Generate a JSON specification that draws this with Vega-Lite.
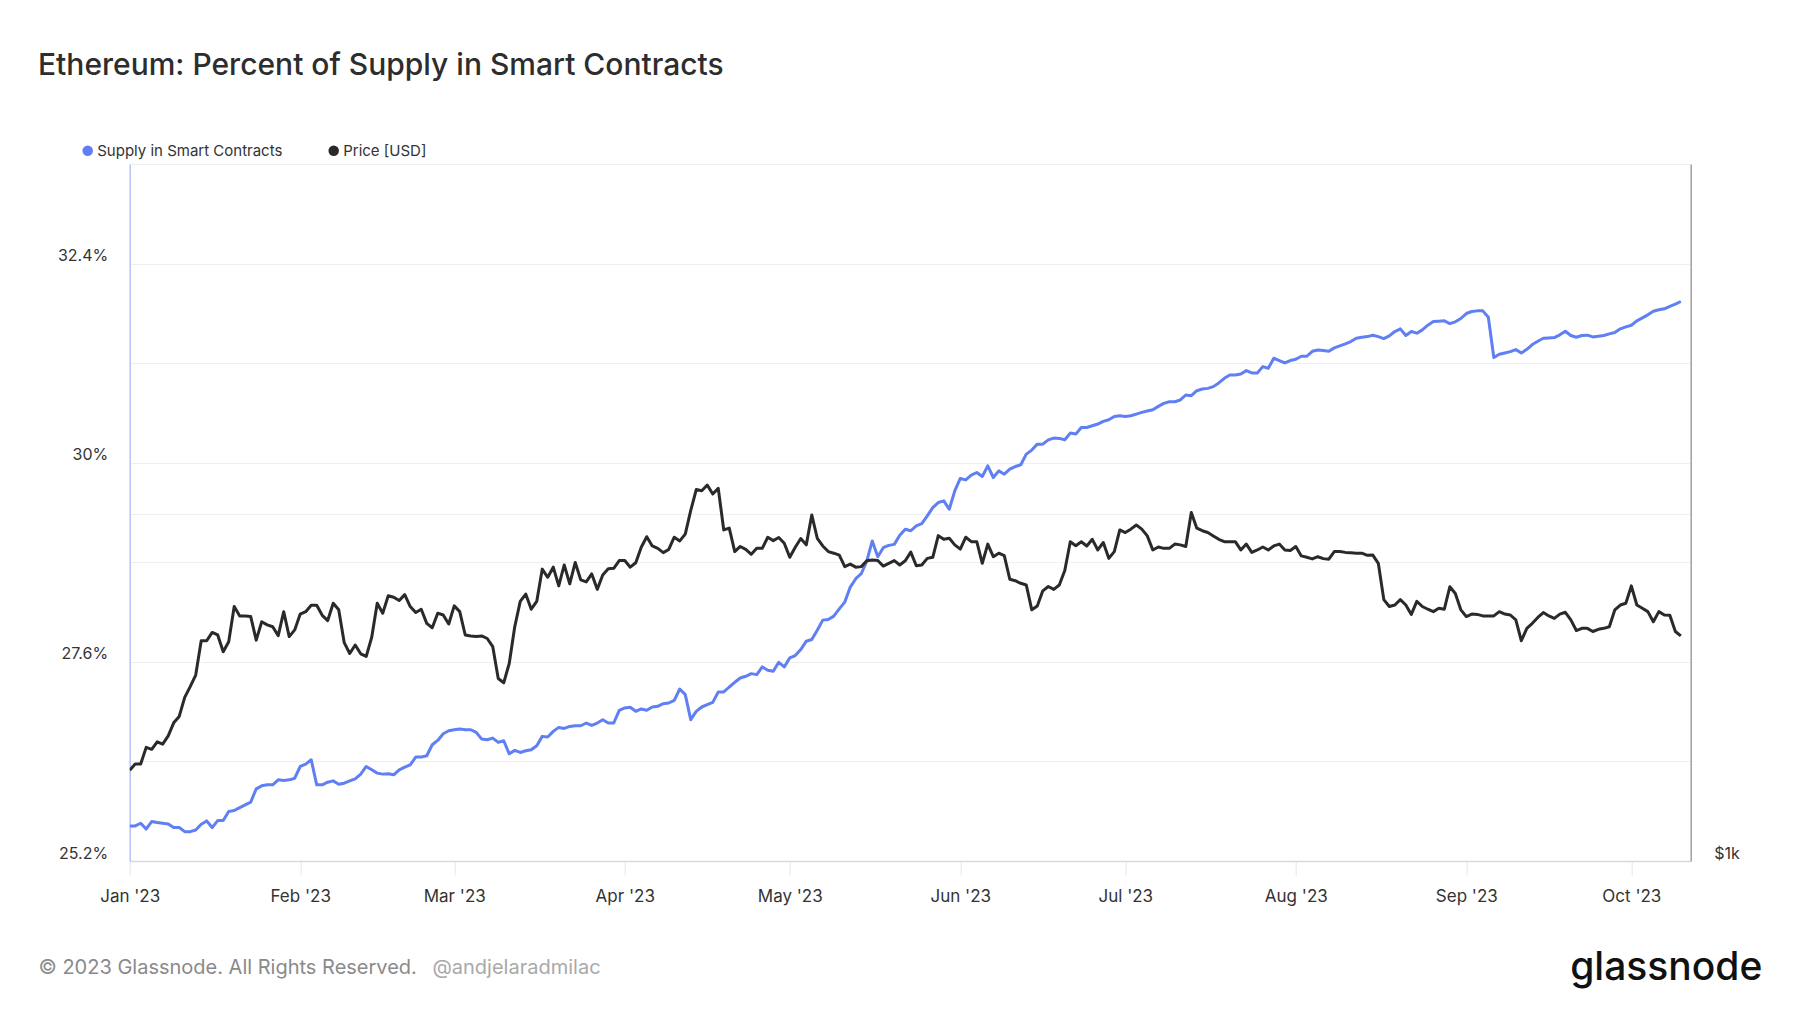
{
  "$schema": "https://vega.github.io/schema/vega-lite/v6.json",
  "width": 1561,
  "height": 697,
  "autosize": {"type": "none"},
  "padding": {"left": 129.7, "top": 164, "right": 109.3, "bottom": 152},
  "background": "white",
  "config": {
    "font": "Inter",
    "view": {"stroke": null},
    "axis": {"labelFont": "Inter", "titleFont": "Inter"}
  },
  "title": {
    "text": "Ethereum: Percent of Supply in Smart Contracts",
    "anchor": "start",
    "frame": "group",
    "dx": -91.7,
    "offset": 47,
    "baseline": "middle",
    "fontSize": 30,
    "fontWeight": 500,
    "color": "#2d2d2d"
  },
  "data": {
    "values": [
      {"d":"2023-01-01","s":25.623,"p":1199},{"d":"2023-01-02","s":25.623,"p":1214},{"d":"2023-01-03","s":25.655,"p":1214},{"d":"2023-01-04","s":25.586,"p":1255},{"d":"2023-01-05","s":25.675,"p":1250},{"d":"2023-01-06","s":25.663,"p":1269},{"d":"2023-01-07","s":25.655,"p":1263},{"d":"2023-01-08","s":25.647,"p":1284},{"d":"2023-01-09","s":25.603,"p":1318},{"d":"2023-01-10","s":25.603,"p":1335},{"d":"2023-01-11","s":25.554,"p":1387},{"d":"2023-01-12","s":25.554,"p":1417},{"d":"2023-01-13","s":25.574,"p":1450},{"d":"2023-01-14","s":25.643,"p":1553},{"d":"2023-01-15","s":25.683,"p":1553},{"d":"2023-01-16","s":25.603,"p":1579},{"d":"2023-01-17","s":25.687,"p":1571},{"d":"2023-01-18","s":25.687,"p":1519},{"d":"2023-01-19","s":25.796,"p":1550},{"d":"2023-01-20","s":25.808,"p":1663},{"d":"2023-01-21","s":25.844,"p":1632},{"d":"2023-01-22","s":25.876,"p":1632},{"d":"2023-01-23","s":25.909,"p":1630},{"d":"2023-01-24","s":26.070,"p":1555},{"d":"2023-01-25","s":26.106,"p":1613},{"d":"2023-01-26","s":26.118,"p":1603},{"d":"2023-01-27","s":26.118,"p":1597},{"d":"2023-01-28","s":26.178,"p":1569},{"d":"2023-01-29","s":26.170,"p":1646},{"d":"2023-01-30","s":26.178,"p":1566},{"d":"2023-01-31","s":26.198,"p":1587},
      {"d":"2023-02-01","s":26.339,"p":1638},{"d":"2023-02-02","s":26.367,"p":1646},{"d":"2023-02-03","s":26.420,"p":1667},{"d":"2023-02-04","s":26.118,"p":1667},{"d":"2023-02-05","s":26.118,"p":1634},{"d":"2023-02-06","s":26.150,"p":1617},{"d":"2023-02-07","s":26.166,"p":1674},{"d":"2023-02-08","s":26.126,"p":1652},{"d":"2023-02-09","s":26.138,"p":1547},{"d":"2023-02-10","s":26.166,"p":1514},{"d":"2023-02-11","s":26.190,"p":1540},{"d":"2023-02-12","s":26.247,"p":1513},{"d":"2023-02-13","s":26.339,"p":1505},{"d":"2023-02-14","s":26.299,"p":1564},{"d":"2023-02-15","s":26.259,"p":1674},{"d":"2023-02-16","s":26.247,"p":1641},{"d":"2023-02-17","s":26.251,"p":1699},{"d":"2023-02-18","s":26.239,"p":1694},{"d":"2023-02-19","s":26.299,"p":1683},{"d":"2023-02-20","s":26.331,"p":1703},{"d":"2023-02-21","s":26.359,"p":1663},{"d":"2023-02-22","s":26.452,"p":1643},{"d":"2023-02-23","s":26.452,"p":1654},{"d":"2023-02-24","s":26.468,"p":1608},{"d":"2023-02-25","s":26.601,"p":1594},{"d":"2023-02-26","s":26.653,"p":1641},{"d":"2023-02-27","s":26.734,"p":1635},{"d":"2023-02-28","s":26.770,"p":1606},
      {"d":"2023-03-01","s":26.782,"p":1665},{"d":"2023-03-02","s":26.790,"p":1646},{"d":"2023-03-03","s":26.782,"p":1571},{"d":"2023-03-04","s":26.782,"p":1568},{"d":"2023-03-05","s":26.750,"p":1566},{"d":"2023-03-06","s":26.669,"p":1568},{"d":"2023-03-07","s":26.661,"p":1560},{"d":"2023-03-08","s":26.681,"p":1535},{"d":"2023-03-09","s":26.629,"p":1440},{"d":"2023-03-10","s":26.649,"p":1428},{"d":"2023-03-11","s":26.492,"p":1484},{"d":"2023-03-12","s":26.533,"p":1597},{"d":"2023-03-13","s":26.508,"p":1680},{"d":"2023-03-14","s":26.529,"p":1705},{"d":"2023-03-15","s":26.541,"p":1654},{"d":"2023-03-16","s":26.589,"p":1680},{"d":"2023-03-17","s":26.702,"p":1792},{"d":"2023-03-18","s":26.694,"p":1763},{"d":"2023-03-19","s":26.762,"p":1799},{"d":"2023-03-20","s":26.810,"p":1733},{"d":"2023-03-21","s":26.798,"p":1807},{"d":"2023-03-22","s":26.822,"p":1740},{"d":"2023-03-23","s":26.830,"p":1816},{"d":"2023-03-24","s":26.830,"p":1754},{"d":"2023-03-25","s":26.863,"p":1747},{"d":"2023-03-26","s":26.834,"p":1775},{"d":"2023-03-27","s":26.863,"p":1721},{"d":"2023-03-28","s":26.903,"p":1771},{"d":"2023-03-29","s":26.863,"p":1793},{"d":"2023-03-30","s":26.863,"p":1795},{"d":"2023-03-31","s":27.016,"p":1823},
      {"d":"2023-04-01","s":27.044,"p":1823},{"d":"2023-04-02","s":27.052,"p":1799},{"d":"2023-04-03","s":27.004,"p":1815},{"d":"2023-04-04","s":27.032,"p":1872},{"d":"2023-04-05","s":27.016,"p":1912},{"d":"2023-04-06","s":27.056,"p":1877},{"d":"2023-04-07","s":27.064,"p":1868},{"d":"2023-04-08","s":27.096,"p":1852},{"d":"2023-04-09","s":27.104,"p":1864},{"d":"2023-04-10","s":27.136,"p":1910},{"d":"2023-04-11","s":27.273,"p":1896},{"d":"2023-04-12","s":27.205,"p":1922},{"d":"2023-04-13","s":26.903,"p":2015},{"d":"2023-04-14","s":27.004,"p":2101},{"d":"2023-04-15","s":27.056,"p":2096},{"d":"2023-04-16","s":27.084,"p":2120},{"d":"2023-04-17","s":27.112,"p":2082},{"d":"2023-04-18","s":27.237,"p":2106},{"d":"2023-04-19","s":27.237,"p":1938},{"d":"2023-04-20","s":27.297,"p":1945},{"d":"2023-04-21","s":27.354,"p":1856},{"d":"2023-04-22","s":27.406,"p":1875},{"d":"2023-04-23","s":27.426,"p":1864},{"d":"2023-04-24","s":27.458,"p":1846},{"d":"2023-04-25","s":27.446,"p":1868},{"d":"2023-04-26","s":27.539,"p":1868},{"d":"2023-04-27","s":27.499,"p":1910},{"d":"2023-04-28","s":27.487,"p":1897},{"d":"2023-04-29","s":27.595,"p":1909},{"d":"2023-04-30","s":27.539,"p":1887},
      {"d":"2023-05-01","s":27.648,"p":1835},{"d":"2023-05-02","s":27.676,"p":1872},{"d":"2023-05-03","s":27.748,"p":1905},{"d":"2023-05-04","s":27.849,"p":1881},{"d":"2023-05-05","s":27.869,"p":1997},{"d":"2023-05-06","s":27.982,"p":1906},{"d":"2023-05-07","s":28.103,"p":1877},{"d":"2023-05-08","s":28.111,"p":1856},{"d":"2023-05-09","s":28.151,"p":1850},{"d":"2023-05-10","s":28.239,"p":1843},{"d":"2023-05-11","s":28.320,"p":1801},{"d":"2023-05-12","s":28.501,"p":1810},{"d":"2023-05-13","s":28.602,"p":1799},{"d":"2023-05-14","s":28.662,"p":1801},{"d":"2023-05-15","s":28.815,"p":1822},{"d":"2023-05-16","s":29.057,"p":1825},{"d":"2023-05-17","s":28.867,"p":1823},{"d":"2023-05-18","s":28.976,"p":1803},{"d":"2023-05-19","s":29.004,"p":1813},{"d":"2023-05-20","s":29.016,"p":1823},{"d":"2023-05-21","s":29.125,"p":1807},{"d":"2023-05-22","s":29.198,"p":1822},{"d":"2023-05-23","s":29.180,"p":1854},{"d":"2023-05-24","s":29.240,"p":1804},{"d":"2023-05-25","s":29.266,"p":1807},{"d":"2023-05-26","s":29.359,"p":1831},{"d":"2023-05-27","s":29.459,"p":1835},{"d":"2023-05-28","s":29.520,"p":1916},{"d":"2023-05-29","s":29.540,"p":1902},{"d":"2023-05-30","s":29.439,"p":1906},{"d":"2023-05-31","s":29.661,"p":1881},
      {"d":"2023-06-01","s":29.810,"p":1865},{"d":"2023-06-02","s":29.793,"p":1910},{"d":"2023-06-03","s":29.850,"p":1893},{"d":"2023-06-04","s":29.882,"p":1893},{"d":"2023-06-05","s":29.834,"p":1813},{"d":"2023-06-06","s":29.962,"p":1884},{"d":"2023-06-07","s":29.822,"p":1837},{"d":"2023-06-08","s":29.902,"p":1850},{"d":"2023-06-09","s":29.862,"p":1841},{"d":"2023-06-10","s":29.922,"p":1756},{"d":"2023-06-11","s":29.954,"p":1751},{"d":"2023-06-12","s":29.975,"p":1742},{"d":"2023-06-13","s":30.103,"p":1736},{"d":"2023-06-14","s":30.152,"p":1652},{"d":"2023-06-15","s":30.224,"p":1665},{"d":"2023-06-16","s":30.224,"p":1716},{"d":"2023-06-17","s":30.276,"p":1731},{"d":"2023-06-18","s":30.297,"p":1721},{"d":"2023-06-19","s":30.293,"p":1736},{"d":"2023-06-20","s":30.276,"p":1787},{"d":"2023-06-21","s":30.357,"p":1893},{"d":"2023-06-22","s":30.345,"p":1878},{"d":"2023-06-23","s":30.425,"p":1893},{"d":"2023-06-24","s":30.425,"p":1877},{"d":"2023-06-25","s":30.446,"p":1902},{"d":"2023-06-26","s":30.466,"p":1862},{"d":"2023-06-27","s":30.498,"p":1890},{"d":"2023-06-28","s":30.518,"p":1831},{"d":"2023-06-29","s":30.558,"p":1856},{"d":"2023-06-30","s":30.566,"p":1938},
      {"d":"2023-07-01","s":30.558,"p":1928},{"d":"2023-07-02","s":30.566,"p":1941},{"d":"2023-07-03","s":30.586,"p":1957},{"d":"2023-07-04","s":30.607,"p":1941},{"d":"2023-07-05","s":30.623,"p":1915},{"d":"2023-07-06","s":30.639,"p":1862},{"d":"2023-07-07","s":30.679,"p":1873},{"d":"2023-07-08","s":30.715,"p":1868},{"d":"2023-07-09","s":30.735,"p":1868},{"d":"2023-07-10","s":30.735,"p":1884},{"d":"2023-07-11","s":30.756,"p":1881},{"d":"2023-07-12","s":30.816,"p":1875},{"d":"2023-07-13","s":30.808,"p":2007},{"d":"2023-07-14","s":30.868,"p":1945},{"d":"2023-07-15","s":30.888,"p":1935},{"d":"2023-07-16","s":30.896,"p":1928},{"d":"2023-07-17","s":30.917,"p":1915},{"d":"2023-07-18","s":30.961,"p":1902},{"d":"2023-07-19","s":31.017,"p":1893},{"d":"2023-07-20","s":31.057,"p":1893},{"d":"2023-07-21","s":31.057,"p":1893},{"d":"2023-07-22","s":31.070,"p":1862},{"d":"2023-07-23","s":31.110,"p":1884},{"d":"2023-07-24","s":31.082,"p":1853},{"d":"2023-07-25","s":31.082,"p":1862},{"d":"2023-07-26","s":31.158,"p":1873},{"d":"2023-07-27","s":31.138,"p":1862},{"d":"2023-07-28","s":31.259,"p":1877},{"d":"2023-07-29","s":31.231,"p":1884},{"d":"2023-07-30","s":31.202,"p":1862},{"d":"2023-07-31","s":31.231,"p":1860},
      {"d":"2023-08-01","s":31.247,"p":1875},{"d":"2023-08-02","s":31.283,"p":1840},{"d":"2023-08-03","s":31.283,"p":1835},{"d":"2023-08-04","s":31.343,"p":1829},{"d":"2023-08-05","s":31.359,"p":1837},{"d":"2023-08-06","s":31.351,"p":1830},{"d":"2023-08-07","s":31.343,"p":1828},{"d":"2023-08-08","s":31.384,"p":1856},{"d":"2023-08-09","s":31.408,"p":1856},{"d":"2023-08-10","s":31.432,"p":1853},{"d":"2023-08-11","s":31.460,"p":1852},{"d":"2023-08-12","s":31.500,"p":1850},{"d":"2023-08-13","s":31.512,"p":1850},{"d":"2023-08-14","s":31.520,"p":1842},{"d":"2023-08-15","s":31.537,"p":1843},{"d":"2023-08-16","s":31.520,"p":1813},{"d":"2023-08-17","s":31.496,"p":1686},{"d":"2023-08-18","s":31.529,"p":1663},{"d":"2023-08-19","s":31.581,"p":1668},{"d":"2023-08-20","s":31.613,"p":1686},{"d":"2023-08-21","s":31.533,"p":1668},{"d":"2023-08-22","s":31.581,"p":1637},{"d":"2023-08-23","s":31.561,"p":1680},{"d":"2023-08-24","s":31.601,"p":1663},{"d":"2023-08-25","s":31.657,"p":1654},{"d":"2023-08-26","s":31.702,"p":1646},{"d":"2023-08-27","s":31.706,"p":1657},{"d":"2023-08-28","s":31.710,"p":1654},{"d":"2023-08-29","s":31.677,"p":1730},{"d":"2023-08-30","s":31.698,"p":1707},{"d":"2023-08-31","s":31.738,"p":1652},
      {"d":"2023-09-01","s":31.798,"p":1630},{"d":"2023-09-02","s":31.822,"p":1638},{"d":"2023-09-03","s":31.830,"p":1637},{"d":"2023-09-04","s":31.830,"p":1632},{"d":"2023-09-05","s":31.754,"p":1632},{"d":"2023-09-06","s":31.267,"p":1632},{"d":"2023-09-07","s":31.307,"p":1646},{"d":"2023-09-08","s":31.323,"p":1638},{"d":"2023-09-09","s":31.339,"p":1635},{"d":"2023-09-10","s":31.363,"p":1619},{"d":"2023-09-11","s":31.323,"p":1553},{"d":"2023-09-12","s":31.367,"p":1592},{"d":"2023-09-13","s":31.424,"p":1608},{"d":"2023-09-14","s":31.464,"p":1627},{"d":"2023-09-15","s":31.500,"p":1643},{"d":"2023-09-16","s":31.504,"p":1632},{"d":"2023-09-17","s":31.508,"p":1624},{"d":"2023-09-18","s":31.541,"p":1638},{"d":"2023-09-19","s":31.585,"p":1644},{"d":"2023-09-20","s":31.533,"p":1619},{"d":"2023-09-21","s":31.512,"p":1585},{"d":"2023-09-22","s":31.533,"p":1592},{"d":"2023-09-23","s":31.537,"p":1592},{"d":"2023-09-24","s":31.516,"p":1582},{"d":"2023-09-25","s":31.525,"p":1589},{"d":"2023-09-26","s":31.533,"p":1592},{"d":"2023-09-27","s":31.553,"p":1597},{"d":"2023-09-28","s":31.569,"p":1652},{"d":"2023-09-29","s":31.613,"p":1668},{"d":"2023-09-30","s":31.637,"p":1674},
      {"d":"2023-10-01","s":31.657,"p":1733},{"d":"2023-10-02","s":31.710,"p":1668},{"d":"2023-10-03","s":31.746,"p":1657},{"d":"2023-10-04","s":31.782,"p":1646},{"d":"2023-10-05","s":31.826,"p":1613},{"d":"2023-10-06","s":31.843,"p":1646},{"d":"2023-10-07","s":31.855,"p":1635},{"d":"2023-10-08","s":31.883,"p":1634},{"d":"2023-10-09","s":31.911,"p":1582},{"d":"2023-10-10","s":31.943,"p":1568}
    ]
  },
  "layer": [
    {
      "mark": {"type": "line", "strokeWidth": 3, "strokeJoin": "round", "clip": true},
      "encoding": {
        "x": {
          "field": "d",
          "type": "temporal",
          "scale": {
            "type": "utc",
            "domain": [{"year": 2023, "month": 1, "date": 1, "utc": true}, {"year": 2023, "month": 10, "date": 11, "hours": 19, "utc": true}]
          },
          "axis": {
            "values": [
              {"year": 2023, "month": 1, "date": 1, "utc": true},
              {"year": 2023, "month": 2, "date": 1, "utc": true},
              {"year": 2023, "month": 3, "date": 1, "utc": true},
              {"year": 2023, "month": 4, "date": 1, "utc": true},
              {"year": 2023, "month": 5, "date": 1, "utc": true},
              {"year": 2023, "month": 6, "date": 1, "utc": true},
              {"year": 2023, "month": 7, "date": 1, "utc": true},
              {"year": 2023, "month": 8, "date": 1, "utc": true},
              {"year": 2023, "month": 9, "date": 1, "utc": true},
              {"year": 2023, "month": 10, "date": 1, "utc": true}
            ],
            "format": "%b '%y",
            "grid": false,
            "domainColor": "#d9d9d9",
            "domainWidth": 1.5,
            "tickColor": "#e6e6e6",
            "tickSize": 14,
            "tickWidth": 1,
            "labelPadding": 13,
            "labelFlush": false,
            "labelBound": false,
            "labelOverlap": false,
            "labelFontSize": 17,
            "labelColor": "#333333",
            "title": "@andjelaradmilac",
            "titleX": 302.3,
            "titleY": 106,
            "titleAlign": "left",
            "titleBaseline": "middle",
            "titleFontSize": 20,
            "titleFontWeight": 400,
            "titleColor": "#a9a9a9"
          }
        },
        "y": {
          "field": "s",
          "type": "quantitative",
          "scale": {"domain": [25.2, 33.6], "nice": false, "zero": false},
          "axis": {
            "orient": "left",
            "values": [25.2, 26.4, 27.6, 28.8, 30, 31.2, 32.4, 33.6],
            "labelExpr": "(datum.value == 25.2 || datum.value == 27.6 || datum.value == 30 || datum.value == 32.4) ? datum.value + '%' : ''",
            "grid": true,
            "gridColor": "#efefef",
            "gridWidth": 1,
            "ticks": false,
            "domainColor": "#b7c3f7",
            "domainWidth": 1.5,
            "labelPadding": 22,
            "labelFontSize": 16,
            "labelColor": "#333333",
            "labelBaseline": "bottom",
            "labelBound": false,
            "labelOverlap": false,
            "title": "© 2023 Glassnode. All Rights Reserved.",
            "titleAngle": 0,
            "titleX": -91.7,
            "titleY": 803,
            "titleAlign": "left",
            "titleBaseline": "middle",
            "titleFontSize": 20,
            "titleFontWeight": 400,
            "titleColor": "#8a8a8a"
          }
        },
        "color": {
          "datum": "Supply in Smart Contracts",
          "scale": {"domain": ["Supply in Smart Contracts", "Price [USD]"], "range": ["#5f7ff2", "#2a2a2a"]},
          "legend": {
            "orient": "none",
            "legendX": -49.5,
            "legendY": -21,
            "direction": "horizontal",
            "title": null,
            "symbolType": "circle",
            "symbolSize": 110,
            "symbolStrokeWidth": 0,
            "labelFontSize": 15,
            "labelLimit": 400,
            "labelColor": "#333333",
            "labelOffset": 2,
            "columnPadding": 43,
            "encode": {"symbols": {"update": {"fill": {"scale": "color", "field": "value"}, "fillOpacity": {"value": 1}}}}
          }
        }
      }
    },
    {
      "mark": {"type": "line", "strokeWidth": 3, "strokeJoin": "round", "clip": true},
      "encoding": {
        "x": {"field": "d", "type": "temporal"},
        "y": {
          "field": "p",
          "type": "quantitative",
          "scale": {"type": "log", "domain": [1000, 4027], "nice": false, "zero": false},
          "axis": {
            "orient": "right",
            "values": [1000, 2000],
            "labelExpr": "datum.value == 1000 ? '$1k' : ''",
            "grid": true,
            "gridColor": "#efefef",
            "gridWidth": 1,
            "ticks": false,
            "domainColor": "#a0a0a0",
            "domainWidth": 1.5,
            "labelPadding": 23,
            "labelFontSize": 16,
            "labelColor": "#333333",
            "labelBaseline": "bottom",
            "labelBound": false,
            "labelOverlap": false,
            "title": "glassnode",
            "titleAngle": 0,
            "titleX": -121,
            "titleY": 815,
            "titleAlign": "left",
            "titleBaseline": "alphabetic",
            "titleFontSize": 39,
            "titleFontWeight": 500,
            "titleColor": "#111111"
          }
        },
        "color": {"datum": "Price [USD]"}
      }
    }
  ],
  "resolve": {"scale": {"y": "independent"}, "axis": {"y": "independent"}}
}
